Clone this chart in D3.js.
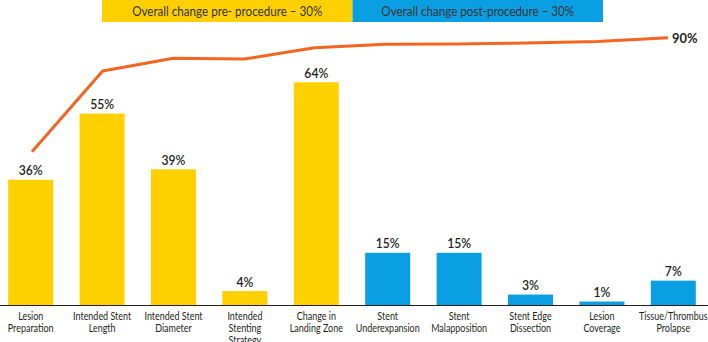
<!DOCTYPE html>
<html>
<head>
<meta charset="utf-8">
<script src="https://cdn.jsdelivr.net/npm/d3@7"></script>
<style>
  body { margin: 0; background: #fff; }
  svg text { font-family: Lato, "Open Sans", sans-serif; fill: #231f20; }
</style>
</head>
<body>
<svg width="708" height="342"></svg>
<script>
// categories and their groups (pre- vs post-procedure)
const categories = [
    "Lesion\nPreparation", "Intended Stent\nLength", "Intended Stent\nDiameter",
    "Intended\nStenting\nStrategy", "Change in\nLanding Zone",
    "Stent\nUnderexpansion", "Stent\nMalapposition", "Stent Edge\nDissection",
    "Lesion\nCoverage", "Tissue/Thrombus\nProlapse"
];
const phase = ["pre", "pre", "pre", "pre", "pre", "post", "post", "post", "post", "post"];
const barValues = [36, 55, 39, 4, 64, 15, 15, 3, 1, 7];
// cumulative line
const lineValues = [51.6, 78.8, 83.1, 82.8, 86.6, 87.8, 87.9, 88.2, 88.7, 90];
const legendLabels = ["Overall change pre- procedure \u2013 30%", "Overall change post-procedure \u2013 30%"];

const colors = { pre: "#ffd000", post: "#0a9fe2" };

const svg = d3.select("svg");
const baseY = 305;

const x = d3.scaleBand()
    .domain(d3.range(categories.length))
    .range([-5, 709])
    .paddingInner(0.37)
    .paddingOuter(0.185);

const y = d3.scaleLinear().domain([0, 100]).range([baseY, baseY - 348]);
const yLine = d3.scaleLinear().domain([0, 90]).range([baseY, 37.7]);
const xLine = d3.scalePoint().domain(d3.range(categories.length)).range([32, 668]);

// legend boxes
const legend = d3.scaleBand().domain([0, 1]).range([102, 603]);
const lg = svg.append("g");
lg.selectAll("rect")
    .data(legendLabels)
    .join("rect")
    .attr("x", (d, i) => legend(i))
    .attr("y", 0)
    .attr("width", legend.bandwidth())
    .attr("height", 22)
    .attr("fill", (d, i) => i === 0 ? colors.pre : colors.post);
lg.selectAll("text")
    .data(legendLabels)
    .join("text")
    .attr("transform", (d, i) => `translate(${legend(i) + legend.bandwidth() / 2},15.5) scale(0.93,1)`)
    .attr("text-anchor", "middle")
    .style("font-size", "12.5px")
    .style("fill", "#333")
    .text(d => d);

// bars
svg.append("g").selectAll("rect")
    .data(barValues)
    .join("rect")
    .attr("x", (d, i) => x(i))
    .attr("y", d => y(d))
    .attr("width", x.bandwidth())
    .attr("height", d => baseY - y(d))
    .attr("fill", (d, i) => colors[phase[i]]);

// value labels
svg.append("g").selectAll("text")
    .data(barValues)
    .join("text")
    .attr("transform", (d, i) => `translate(${x(i) + x.bandwidth() / 2},${y(d) - 4.5}) scale(0.9,1)`)
    .attr("text-anchor", "middle")
    .style("font-size", "13.5px")
    .style("font-weight", 600)
    .text(d => d + "%");

// baseline
svg.append("line")
    .attr("x1", 0).attr("x2", 708)
    .attr("y1", baseY + 0.5).attr("y2", baseY + 0.5)
    .attr("stroke", "#231f20")
    .attr("stroke-width", 1.2);

// category labels, narrowed to fit under each bar
const cat = svg.append("g").selectAll("text")
    .data(categories)
    .join("text")
    .attr("text-anchor", "middle")
    .style("font-size", "11.5px")
    .attr("transform", (d, i) => `translate(${x(i) + x.bandwidth() / 2},320) scale(0.78,1)`);
cat.selectAll("tspan")
    .data(d => d.split("\n"))
    .join("tspan")
    .attr("x", 0)
    .attr("y", (d, i) => i * 12)
    .text(d => d);

// cumulative line
const line = d3.line()
    .x((d, i) => xLine(i))
    .y(d => yLine(d));

svg.append("path")
    .datum(lineValues)
    .attr("fill", "none")
    .attr("stroke", "#f26522")
    .attr("stroke-width", 3)
    .attr("stroke-linejoin", "round")
    .attr("d", line);

const last = lineValues.length - 1;
svg.append("text")
    .attr("transform", `translate(${xLine(last) + 4},${yLine(lineValues[last]) + 5}) scale(0.92,1)`)
    .style("font-size", "14px")
    .style("font-weight", 700)
    .text(lineValues[last] + "%");
</script>
</body>
</html>
